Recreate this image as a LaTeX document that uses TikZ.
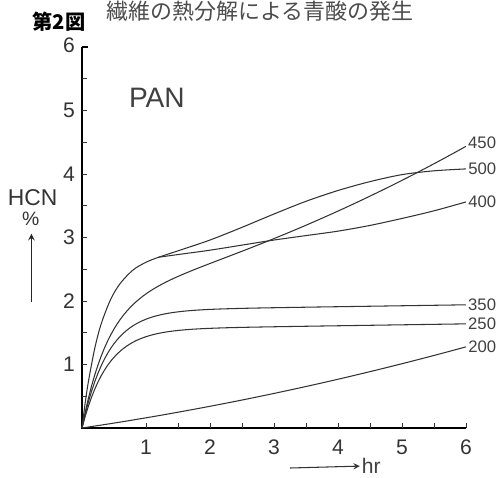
\documentclass[tikz,border=0pt]{standalone}
\usepackage{fontspec}
\setmainfont{Liberation Sans}
\newfontfamily\cjk{Noto Sans CJK JP}
\tikzset{
  curve/.style={black!80,line width=0.6pt},
  axisline/.style={black,line width=1pt},
  ticklbl/.style={font=\fontsize{12}{12}\selectfont,text=black!80,inner sep=1pt},
  templbl/.style={font=\fontsize{9.5}{10}\selectfont,text=black!75,anchor=west,inner sep=1pt}
}
\begin{document}
\begin{tikzpicture}[x=1.28cm,y=1.27cm]
 \useasboundingbox (-1.281,-0.787) rectangle (6.5,6.74);
 \node[font=\cjk\fontsize{12.5}{13}\selectfont,text=black!70,anchor=north,inner sep=0pt] (title) at (2.78,6.73) {繊維の熱分解による青酸の発生};
 \node[font=\cjk\bfseries\fontsize{11.5}{12}\selectfont,inner sep=0pt] (fig) at (-0.36,6.4) {第2図};
 \draw[axisline](0,6)--(0,0)--(6,0);
 \draw[axisline](0,6)--(0.1,6);
 \draw[black!80](0,0.5)--(0.08,0.5) (0,1)--(0.08,1) (0,1.5)--(0.08,1.5) (0,2)--(0.08,2);
 \draw[black!80](0,2.5)--(0.08,2.5) (0,3)--(0.08,3) (0,3.5)--(0.08,3.5) (0,4)--(0.08,4);
 \draw[black!80](0,4.5)--(0.08,4.5) (0,5)--(0.08,5) (0,5.5)--(0.08,5.5);
 \draw[black!80](1,0)--(1,0.08) (1.5,0)--(1.5,0.08) (2,0)--(2,0.08) (2.5,0)--(2.5,0.08);
 \draw[black!80](3,0)--(3,0.08) (3.5,0)--(3.5,0.08) (4,0)--(4,0.08) (4.5,0)--(4.5,0.08);
 \draw[black!80](5,0)--(5,0.08) (5.5,0)--(5.5,0.08) (6,0)--(6,0.08);
 \node[ticklbl,anchor=east] (y1) at (-0.08,1) {1};
 \node[ticklbl,anchor=east] (y2) at (-0.08,2) {2};
 \node[ticklbl,anchor=east] (y3) at (-0.08,3) {3};
 \node[ticklbl,anchor=east] (y4) at (-0.08,4) {4};
 \node[ticklbl,anchor=east] (y5) at (-0.08,5) {5};
 \node[ticklbl,anchor=east] (y6) at (-0.08,6.03) {6};
 \node[ticklbl] (x1) at (1,-0.3) {1};
 \node[ticklbl] (x2) at (2,-0.3) {2};
 \node[ticklbl] (x3) at (3,-0.3) {3};
 \node[ticklbl] (x4) at (4,-0.3) {4};
 \node[ticklbl] (x5) at (5,-0.3) {5};
 \node[ticklbl] (x6) at (6,-0.3) {6};
 \node[font=\fontsize{16}{16}\selectfont,text=black!75] (pan) at (1.17,5.2) {PAN};
 \node[font=\fontsize{13}{13}\selectfont,text=black!80,inner sep=0pt] (hcn) at (-0.77,3.62) {HCN};
 \node[font=\fontsize{11}{11}\selectfont,text=black!80,inner sep=0pt] (pct) at (-0.8,3.3) {\%};
 \coordinate (ybot) at (-0.79,1.98);
 \draw[black!85,line width=0.7pt,-stealth](ybot)--(-0.79,3.06);
 \node[font=\fontsize{12}{12}\selectfont,text=black!75,inner sep=1pt] (hr) at (4.52,-0.6) {hr};
 \coordinate (xbeg) at (3.25,-0.63);
 \draw[black!80,line width=0.6pt,-stealth](xbeg)--(hr.west);
 \draw[curve] plot[domain=0:6,samples=61] (\x,{0.15*\x+0.0105*\x*\x}) node[templbl] (t200) {200};
 \draw[curve] plot[domain=0:6,samples=121] (\x,{1.55*(1-exp(-\x/0.4))+0.015*\x}) node[templbl] (t250) {250};
 \draw[curve] plot[domain=0:6,samples=121] (\x,{1.85*(1-exp(-\x/0.4))+0.015*\x}) node[templbl] (t350) {350};
 \draw[curve] plot[domain=0:6,samples=121] (\x,{2*(1-exp(-\x/0.4))+0.25*\x+0.026*\x*\x}) node[templbl,yshift=2pt] (t450) {450};
 \draw[curve] plot[smooth] coordinates {(0,0)(0.05,0.395)(0.1,0.729)(0.2,1.257)(0.3,1.64)(0.45,2.03)(0.6,2.28)(0.8,2.49)(1.0,2.61)(1.2,2.69)(1.5,2.79)(2,2.96)(2.5,3.16)(3,3.37)(3.5,3.57)(4,3.74)(4.5,3.88)(5,3.99)(5.5,4.05)(6,4.08)} node[templbl] (t500) {500};
 \coordinate (fork) at (1.2,2.69);
 \draw[curve] plot[smooth] coordinates {(fork)(1.6,2.745)(2,2.8)(2.5,2.88)(3,2.96)(3.5,3.03)(4,3.1)(4.5,3.19)(5,3.3)(5.5,3.42)(6,3.56)} node[templbl] (t400) {400};
\end{tikzpicture}
\end{document}
